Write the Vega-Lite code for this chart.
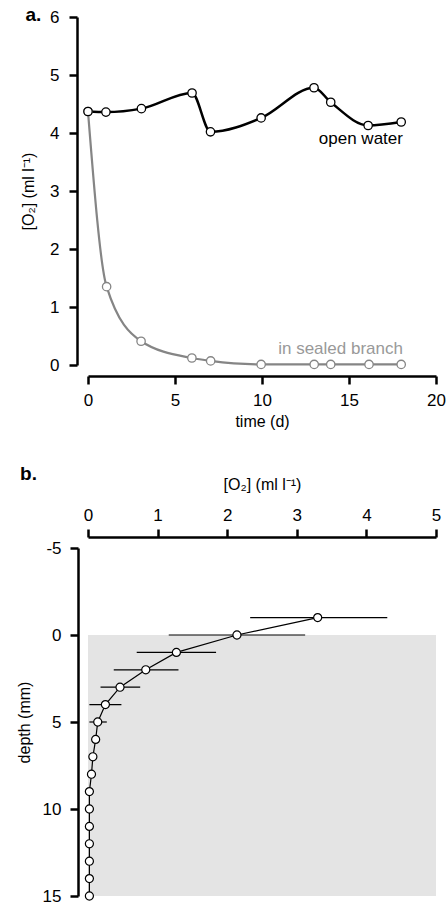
{
  "$schema": "https://vega.github.io/schema/vega-lite/v6.json",
  "padding": {"left": 16, "top": 6, "right": 0, "bottom": 0},
  "background": "white",
  "datasets": {
    "timeseries": [
      {"series": "open water", "t": 0, "o2": 4.37},
      {"series": "open water", "t": 1.03, "o2": 4.36},
      {"series": "open water", "t": 3.07, "o2": 4.42},
      {"series": "open water", "t": 5.98, "o2": 4.69},
      {"series": "open water", "t": 7.04, "o2": 4.02},
      {"series": "open water", "t": 9.95, "o2": 4.26},
      {"series": "open water", "t": 12.99, "o2": 4.78},
      {"series": "open water", "t": 13.95, "o2": 4.53},
      {"series": "open water", "t": 16.1, "o2": 4.13},
      {"series": "open water", "t": 18.0, "o2": 4.19},
      {"series": "in sealed branch", "t": 0, "o2": 4.37},
      {"series": "in sealed branch", "t": 1.07, "o2": 1.35},
      {"series": "in sealed branch", "t": 3.05, "o2": 0.41},
      {"series": "in sealed branch", "t": 5.97, "o2": 0.12},
      {"series": "in sealed branch", "t": 7.05, "o2": 0.07},
      {"series": "in sealed branch", "t": 9.95, "o2": 0.01},
      {"series": "in sealed branch", "t": 13.0, "o2": 0.01},
      {"series": "in sealed branch", "t": 13.95, "o2": 0.01},
      {"series": "in sealed branch", "t": 16.15, "o2": 0.01},
      {"series": "in sealed branch", "t": 18.0, "o2": 0.01}
    ],
    "labels": [
      {"series": "open water", "t": 18.1, "o2": 3.9},
      {"series": "in sealed branch", "t": 18.1, "o2": 0.27}
    ],
    "profile": [
      {"depth": -1, "o2": 3.3, "lo": 2.33, "hi": 4.3},
      {"depth": 0, "o2": 2.14, "lo": 1.16, "hi": 3.12},
      {"depth": 1, "o2": 1.27, "lo": 0.7, "hi": 1.84},
      {"depth": 2, "o2": 0.83, "lo": 0.37, "hi": 1.3},
      {"depth": 3, "o2": 0.46, "lo": 0.18, "hi": 0.75},
      {"depth": 4, "o2": 0.25, "lo": 0.02, "hi": 0.48},
      {"depth": 5, "o2": 0.14, "lo": 0.02, "hi": 0.27},
      {"depth": 6, "o2": 0.11, "lo": 0.06, "hi": 0.17},
      {"depth": 7, "o2": 0.07, "lo": 0.05, "hi": 0.09},
      {"depth": 8, "o2": 0.05, "lo": 0.04, "hi": 0.06},
      {"depth": 9, "o2": 0.02, "lo": 0.02, "hi": 0.02},
      {"depth": 10, "o2": 0.02, "lo": 0.02, "hi": 0.02},
      {"depth": 11, "o2": 0.02, "lo": 0.02, "hi": 0.02},
      {"depth": 12, "o2": 0.02, "lo": 0.02, "hi": 0.02},
      {"depth": 13, "o2": 0.02, "lo": 0.02, "hi": 0.02},
      {"depth": 14, "o2": 0.02, "lo": 0.02, "hi": 0.02},
      {"depth": 15, "o2": 0.02, "lo": 0.02, "hi": 0.02}
    ],
    "sediment": [
      {"x": 0, "x2": 5, "d": 0, "d2": 15}
    ]
  },
  "config": {
    "view": {"stroke": null},
    "font": "Liberation Sans",
    "scale": {"nice": false},
    "axis": {
      "grid": false,
      "domainColor": "#000",
      "domainWidth": 2.5,
      "tickColor": "#000",
      "tickWidth": 2.5,
      "tickSize": 8,
      "labelFont": "Liberation Sans",
      "labelFontSize": 17,
      "labelColor": "#000",
      "labelExpr": "'' + datum.value",
      "titleFont": "Liberation Sans",
      "titleFontSize": 16,
      "titleFontWeight": "normal",
      "titleColor": "#000",
      "labelFlush": false,
      "labelOverlap": false
    },
    "title": {"font": "Liberation Sans", "fontSize": 19, "fontWeight": "bold", "color": "#000"}
  },
  "vconcat": [
    {
      "width": 348,
      "height": 348,
      "title": {"text": "a.", "anchor": "start", "frame": "bounds", "offset": 0, "dy": 17, "dx": 5},
      "layer": [
        {
          "data": {"name": "timeseries"},
          "transform": [{"filter": "datum.series === 'in sealed branch'"}],
          "mark": {"type": "line", "interpolate": "monotone", "color": "#858585", "strokeWidth": 2.2},
          "encoding": {
            "x": {"field": "t", "type": "quantitative", "scale": {"domain": [0, 20], "nice": false}, "axis": {"values": [0, 5, 10, 15, 20], "title": "time (d)", "offset": 11, "labelPadding": 8, "titlePadding": 5}},
            "y": {"field": "o2", "type": "quantitative", "scale": {"domain": [0, 6], "nice": false}, "axis": {"values": [0, 1, 2, 3, 4, 5, 6], "title": "[O₂] (ml l⁻¹)", "offset": 11, "labelPadding": 10, "titlePadding": 13}},
            "order": {"field": "t"}
          }
        },
        {
          "data": {"name": "timeseries"},
          "transform": [{"filter": "datum.series === 'open water'"}],
          "mark": {"type": "line", "interpolate": "monotone", "color": "#000", "strokeWidth": 2.5},
          "encoding": {
            "x": {"field": "t", "type": "quantitative"},
            "y": {"field": "o2", "type": "quantitative"},
            "order": {"field": "t"}
          }
        },
        {
          "data": {"name": "timeseries"},
          "transform": [{"filter": "datum.series === 'in sealed branch'"}],
          "mark": {"type": "point", "shape": "circle", "filled": true, "fill": "white", "stroke": "#858585", "strokeWidth": 1.3, "size": 70, "opacity": 1},
          "encoding": {
            "x": {"field": "t", "type": "quantitative"},
            "y": {"field": "o2", "type": "quantitative"}
          }
        },
        {
          "data": {"name": "timeseries"},
          "transform": [{"filter": "datum.series === 'open water'"}],
          "mark": {"type": "point", "shape": "circle", "filled": true, "fill": "white", "stroke": "#000", "strokeWidth": 1.3, "size": 70, "opacity": 1},
          "encoding": {
            "x": {"field": "t", "type": "quantitative"},
            "y": {"field": "o2", "type": "quantitative"}
          }
        },
        {
          "data": {"name": "labels"},
          "mark": {"type": "text", "align": "right", "baseline": "middle", "fontSize": 17, "font": "Liberation Sans"},
          "encoding": {
            "x": {"field": "t", "type": "quantitative"},
            "y": {"field": "o2", "type": "quantitative"},
            "text": {"field": "series"},
            "color": {"field": "series", "type": "nominal", "scale": {"domain": ["open water", "in sealed branch"], "range": ["#000000", "#999999"]}, "legend": null}
          }
        }
      ]
    },
    {
      "width": 348,
      "height": 348,
      "title": {"text": "b.", "anchor": "start", "frame": "bounds", "offset": 0, "dy": 8, "dx": 4},
      "layer": [
        {
          "data": {"name": "sediment"},
          "mark": {"type": "rect", "color": "#e4e4e4"},
          "encoding": {
            "x": {"field": "x", "type": "quantitative", "scale": {"domain": [0, 5], "nice": false}, "axis": {"orient": "top", "values": [0, 1, 2, 3, 4, 5], "title": "[O₂] (ml l⁻¹)", "offset": 11, "labelPadding": 5, "titlePadding": 14}},
            "x2": {"field": "x2"},
            "y": {"field": "d", "type": "quantitative", "scale": {"domain": [-5, 15], "reverse": true, "nice": false}, "axis": {"values": [-5, 0, 5, 10, 15], "title": "depth (mm)", "offset": 10, "labelPadding": 9, "titlePadding": 10}},
            "y2": {"field": "d2"}
          }
        },
        {
          "data": {"name": "profile"},
          "mark": {"type": "rule", "color": "#000", "strokeWidth": 1.2},
          "encoding": {
            "x": {"field": "lo", "type": "quantitative"},
            "x2": {"field": "hi"},
            "y": {"field": "depth", "type": "quantitative"}
          }
        },
        {
          "data": {"name": "profile"},
          "mark": {"type": "line", "color": "#000", "strokeWidth": 1.2},
          "encoding": {
            "x": {"field": "o2", "type": "quantitative"},
            "y": {"field": "depth", "type": "quantitative"},
            "order": {"field": "depth"}
          }
        },
        {
          "data": {"name": "profile"},
          "mark": {"type": "point", "shape": "circle", "filled": true, "fill": "white", "stroke": "#000", "strokeWidth": 1.2, "size": 65, "opacity": 1},
          "encoding": {
            "x": {"field": "o2", "type": "quantitative"},
            "y": {"field": "depth", "type": "quantitative"}
          }
        }
      ]
    }
  ],
  "spacing": 36
}
